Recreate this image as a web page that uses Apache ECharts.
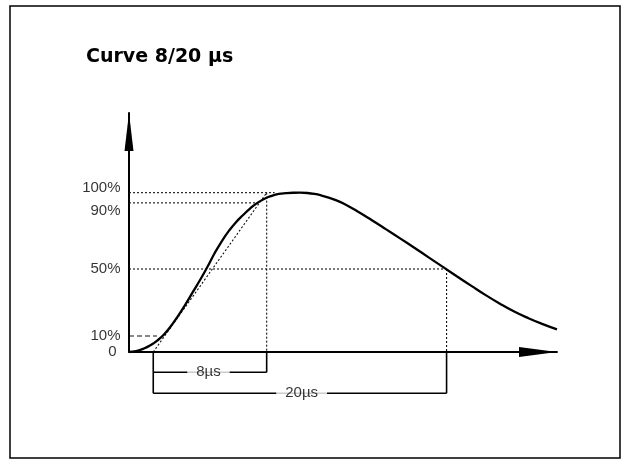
<!DOCTYPE html>
<html><head><meta charset="utf-8">
<script src="https://cdn.jsdelivr.net/npm/echarts@6/dist/echarts.min.js"></script>
<style>html,body{margin:0;padding:0;background:#fff}#c{width:622px;height:460px}</style>
</head><body><div id="c"></div>
<script>
// Time axis (µs-like units) and amplitude in % of peak
const curveT = [0, 0.5, 1, 1.5, 2, 2.5, 3, 3.5, 4, 4.5, 5, 5.5, 6, 6.5, 7, 7.5, 8, 8.5, 9, 9.5, 10, 10.5, 11, 11.5, 12, 12.5, 13, 13.5, 14, 14.5, 15, 16, 17, 18, 19, 20, 21, 22, 23, 24, 25, 26, 27, 28, 29, 30];
const curveV = [0, 0.6, 2, 4.2, 7.3, 11.5, 17, 23.5, 30.5, 38, 45.5, 53.5, 62, 69.5, 76, 81.5, 86, 90.2, 93.6, 96.2, 98, 99.2, 99.7, 99.95, 100, 99.8, 99.2, 98.2, 96.9, 95.3, 93.4, 88.3, 82.8, 77.1, 71.3, 65.4, 59.4, 53.4, 47.4, 41.5, 35.7, 30.3, 25.4, 21.2, 17.5, 14.2];
const levelValues = [0, 10, 52.1, 93.6, 100];
const levelLabels = ['0', '10%', '50%', '90%', '100%'];
const levelLineEnds = [0, 1.96, 22.26, 9.0, 10.2];
const virtualOrigin = 1.70;
const frontEnd = 9.65;
const halfEnd = 22.26;
const dimLevels = [-12.7, -25.9];
const dimLabels = ['8µs', '20µs'];
const dimLabelAt = [5.57, 12.1];
const titleText = 'Curve 8/20 µs';

const chart = echarts.init(document.getElementById('c'), null, {renderer: 'canvas'});
const dotted = {color: '#111', width: 1.1, type: [2, 2]};
const solidThin = {color: '#000', width: 1.6};
function seg(pts, style) {
  return {type: 'line', data: pts, symbol: 'none', clip: false, silent: true, lineStyle: style, z: 2};
}
const series = [];
series.push({type: 'line', data: curveT.map((t, i) => [t, curveV[i]]), smooth: 0.5, symbol: 'none',
  lineStyle: {color: '#000', width: 2.3}, z: 5, silent: true});
for (let i = 1; i < levelValues.length; i++) {
  const st = i === 1 ? {color: '#111', width: 1.1, type: [5, 3]} : dotted;
  series.push(seg([[0, levelValues[i]], [levelLineEnds[i], levelValues[i]]], st));
}
series.push(seg([[frontEnd, 100], [frontEnd, 0]], dotted));
series.push(seg([[halfEnd, levelValues[2]], [halfEnd, 0]], dotted));
series.push(seg([[virtualOrigin, 0], [frontEnd, 100]], dotted));
series.push(seg([[virtualOrigin, 0], [virtualOrigin, dimLevels[1]]], solidThin));
series.push(seg([[frontEnd, 0], [frontEnd, dimLevels[0]]], solidThin));
series.push(seg([[halfEnd, 0], [halfEnd, dimLevels[1]]], solidThin));
series.push(seg([[virtualOrigin, dimLevels[0]], [frontEnd, dimLevels[0]]], solidThin));
series.push(seg([[virtualOrigin, dimLevels[1]], [halfEnd, dimLevels[1]]], solidThin));
series.push({type: 'scatter', clip: false, silent: true, symbolSize: 1, itemStyle: {color: 'rgba(0,0,0,0)'}, z: 10,
  data: dimLabels.map((l, i) => ({value: [dimLabelAt[i], dimLevels[i]], name: l})),
  label: {show: true, position: 'inside', formatter: p => p.name, color: '#000', fontSize: 15,
    fontFamily: 'Liberation Sans, Arial, sans-serif', backgroundColor: '#fff', padding: [2, 9]}});
const labelOffsets = {'0': [-4, 0], '100%': [0, -5], '90%': [0, 8]};
series.push({type: 'scatter', clip: false, silent: true, symbolSize: 1, itemStyle: {color: 'rgba(0,0,0,0)'}, z: 10,
  data: levelValues.map((v, i) => ({value: [0, v], name: levelLabels[i],
    label: {offset: labelOffsets[levelLabels[i]] || [0, 0]}})),
  label: {show: true, position: 'left', distance: 8, formatter: p => p.name, color: '#000', fontSize: 15,
    fontFamily: 'Liberation Sans, Arial, sans-serif'}});

chart.setOption({
  animation: false,
  backgroundColor: '#fff',
  title: {text: titleText, left: 86, top: 48, padding: 0,
    textStyle: {fontFamily: 'DejaVu Sans', fontWeight: 'bold', fontSize: 19, color: '#000'}},
  grid: {left: 129, right: 65, top: 113, bottom: 108, containLabel: false},
  xAxis: {type: 'value', min: 0, max: 30, splitLine: {show: false}, axisTick: {show: false}, axisLabel: {show: false},
    axisLine: {show: true, lineStyle: {color: '#000', width: 1.8}, symbol: ['none', 'triangle'], symbolSize: [10, 38], symbolOffset: [0, -19]}},
  yAxis: {type: 'value', min: 0, max: 150, splitLine: {show: false}, axisTick: {show: false}, axisLabel: {show: false},
    axisLine: {show: true, lineStyle: {color: '#000', width: 2}, symbol: ['none', 'triangle'], symbolSize: [9, 38], symbolOffset: [0, -19]}},
  graphic: [{type: 'rect', shape: {x: 10, y: 6, width: 610, height: 452}, style: {fill: 'none', stroke: '#000', lineWidth: 1.5}, z: -1}],
  series: series
});
</script></body></html>
